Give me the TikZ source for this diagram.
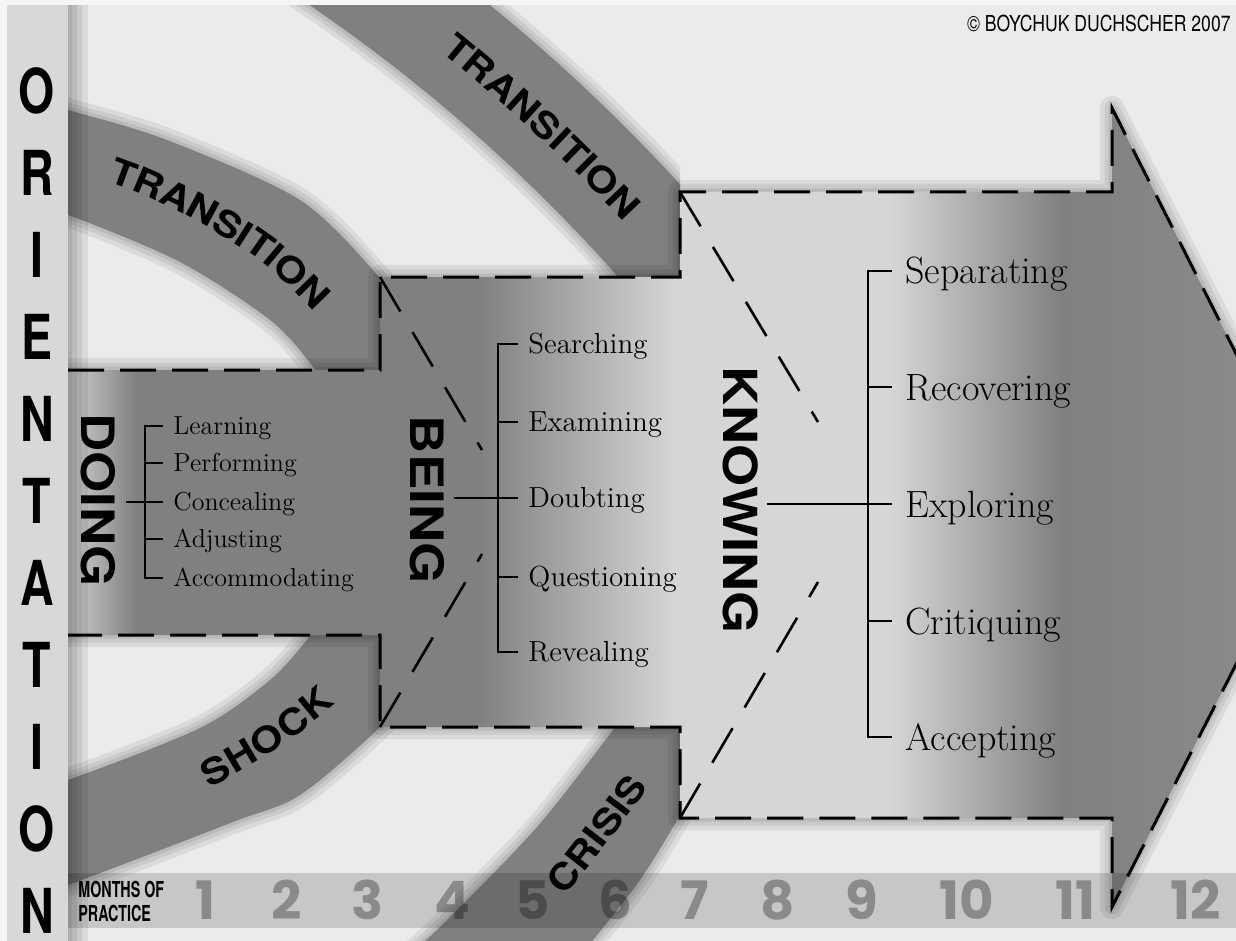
\documentclass[tikz,border=0pt]{standalone}
\usepackage{fontspec}
\newfontfamily\stagefont[FakeStretch=1.15]{TeX Gyre Heros}
\newfontfamily\orifont[FakeStretch=0.75]{TeX Gyre Heros}
\newfontfamily\copyfont[FakeStretch=0.8]{TeX Gyre Heros}
\newfontfamily\barfont[FakeStretch=0.65]{TeX Gyre Heros}
\newfontfamily\numfont{Poppins}
\usetikzlibrary{decorations.text,calc}
\definecolor{paper}{HTML}{EBEBEB}
\definecolor{barlite}{HTML}{D8D8D8}
\definecolor{bandgray}{HTML}{808080}
\definecolor{fadelite}{HTML}{D6D6D6}
\definecolor{doinglite}{HTML}{CFCFCF}
\definecolor{headgray}{HTML}{8E8E8E}
\tikzset{
    band/.style={
        fill=bandgray,
    },
    shadowed/.style={
        preaction={draw=black,draw opacity=.07,line width=12pt,line join=round},
        preaction={draw=black,draw opacity=.07,line width=7.5pt,line join=round},
        preaction={draw=black,draw opacity=.08,line width=3.5pt,line join=round},
    },
    edgeline/.style={
        draw=black,
        line width=1.5pt,
        dash pattern=on 18pt off 8pt,
    },
    chev/.style={
        draw=black,
        line width=1.3pt,
        dash pattern=on 20pt off 12pt,
    },
    brk/.style={
        draw=black,
        line width=1.3pt,
    },
    stage/.style={
        rotate=-90,
        inner sep=0pt,
        text height=16.5pt,
        text depth=0pt,
        font=\stagefont\bfseries\fontsize{23pt}{23pt}\selectfont,
    },
    orient/.style={
        inner sep=0pt,
        text height=22.5pt,
        text depth=0pt,
        font=\orifont\bfseries\fontsize{31pt}{31pt}\selectfont,
    },
    doitem/.style={
        anchor=west, inner sep=0pt, text height=8.9pt, text depth=0pt,
        font=\fontsize{13pt}{13pt}\selectfont,
    },
    beitem/.style={
        anchor=west, inner sep=0pt, text height=9.9pt, text depth=0pt,
        font=\fontsize{14.5pt}{14.5pt}\selectfont,
    },
    knitem/.style={
        anchor=west, inner sep=0pt, text height=13pt, text depth=0pt,
        font=\fontsize{19pt}{19pt}\selectfont,
    },
    month/.style={
        inner sep=0pt, text height=18.5pt, text depth=0pt,
        text=black, text opacity=.3,
        font=\numfont\bfseries\fontsize{26.5pt}{26.5pt}\selectfont,
    },
    bartext/.style={
        anchor=west, inner sep=0pt, text height=8pt, text depth=0pt,
        font=\barfont\bfseries\fontsize{11pt}{11pt}\selectfont,
    },
    bandtext/.style={
        decorate,
        decoration={text along path, text align=center, raise=-6.5pt,
            text={|\stagefont\bfseries\fontsize{18pt}{18pt}\selectfont|#1}},
    },
}

\begin{document}
\begin{tikzpicture}[x=0.5pt,y=-0.5pt]
    \useasboundingbox (0,0) rectangle (1236,941);
    \clip (0,0) rectangle (1236,941);
    \fill[paper] (0,0) rectangle (1236,941);

    % corners of the stage outline
    \coordinate (doTL) at (68,370);
    \coordinate (doTR) at (380,370);
    \coordinate (beTL) at (380,277);
    \coordinate (beTR) at (680,277);
    \coordinate (knTL) at (680,192);
    \coordinate (knTR) at (1112,192);
    \coordinate (arTop) at (1112,108);
    \coordinate (arTip) at (1315,510);
    \coordinate (arBot) at (1112,907);
    \coordinate (knBR) at (1112,818);
    \coordinate (knBL) at (680,818);
    \coordinate (beBR) at (680,727);
    \coordinate (beBL) at (380,727);
    \coordinate (doBR) at (380,635);
    \coordinate (doBL) at (68,635);
    \coordinate (beUp) at (482,450);
    \coordinate (beLo) at (482,554);
    \coordinate (knUp) at (818,422);
    \coordinate (knLo) at (818,582);

    % bands
    \fill[band, shadowed] plot[smooth] coordinates {(0,92) (68,110) (167,140) (300,200) (380,278) (430,345)}
        -- plot[smooth] coordinates {(345,420) (313,367) (270,320) (180,262) (68,215) (0,197)} -- cycle;
    \fill[band, shadowed] plot[smooth] coordinates {(0,905) (68,885) (233,822) (300,795) (380,727) (430,668)}
        -- plot[smooth] coordinates {(345,588) (310,636) (270,680) (200,728) (68,780) (0,800)} -- cycle;
    \fill[band, shadowed] plot[smooth] coordinates {(415,950) (447,920) (537,827) (613,730) (665,660)}
        -- plot[smooth] coordinates {(715,750) (680,815) (640,880) (593,940) (580,955)} -- cycle;
    \begin{scope}
        \clip (250,0) rectangle (680,600);
        \fill[band, shadowed, even odd rule] (-626,1379) circle[radius=1770] (-626,1379) circle[radius=1662];
    \end{scope}

    % stage outline
    \path[shadowed] (doTL) -- (doTR) -- (beTL) -- (beTR) -- (knTL) -- (knTR) -- (arTop) -- (arTip)
        -- (arBot) -- (knBR) -- (knBL) -- (beBR) -- (beBL) -- (doBR) -- (doBL) -- cycle;
    \begin{scope}
        \clip (doTL) -- (doTR) -- (beTL) -- (beTR) -- (knTL) -- (knTR) -- (arTop) -- (arTip)
            -- (arBot) -- (knBR) -- (knBL) -- (beBR) -- (beBL) -- (doBR) -- (doBL) -- cycle;
        \shade[left color=doinglite, right color=bandgray] (68,0) rectangle (136,941);
        \fill[bandgray] (135,0) rectangle (481,941);
        \shade[left color=bandgray, right color=fadelite] (480,0) rectangle (676,941);
        \fill[fadelite] (675,0) rectangle (891,941);
        \shade[left color=fadelite, right color=bandgray] (890,0) rectangle (1061,941);
        \shade[left color=bandgray, right color=headgray] (1060,0) rectangle (1320,941);
    \end{scope}
    \draw[edgeline] (doTL) -- (doTR) -- (beTL) -- (beTR) -- (knTL) -- (knTR) -- (arTop) -- (arTip)
        -- (arBot) -- (knBR) -- (knBL) -- (beBR) -- (beBL) -- (doBR) -- (doBL);
    \draw[chev] (beTL) -- (beUp);
    \draw[chev] (beBL) -- (beLo);
    \draw[chev] (knTL) -- (knUp);
    \draw[chev] (knBL) -- (knLo);

    % months of practice
    \fill[black, fill opacity=.15] (68,873) rectangle (1236,928);
    \foreach \m/\x in {1/205,2/287,3/368,4/452,5/533,6/615,7/695,8/778,9/862,10/967,11/1075,12/1196}
        \node[month] (mon\m) at (\x,901) {\m};
    \node[bartext] (months) at (78,889) {MONTHS OF};
    \node[bartext] (practice) at (78,913) {PRACTICE};

    % band labels
    \path[bandtext=TRANSITION] plot[smooth] coordinates {(40,152) (120,172) (200,208) (270,252) (330,310) (370,360)};
    \path[bandtext=TRANSITION] plot[domain=57:37, samples=60] ({-626+1716*cos(\x)},{1379-1716*sin(\x)});
    \path[bandtext=SHOCK] (135,807) .. controls (220,775) and (320,715) .. (380,640);
    \path[bandtext=CRISIS] (520,930) .. controls (575,865) and (625,800) .. (670,735);

    % orientation bar
    \fill[white!96!black] (0,0) rectangle (1236,5);
    \fill[white!96!black] (0,0) rectangle (7,941);
    \foreach \w in {20,14,9,4}
        \fill[black, fill opacity=.07] (68,5) rectangle ++(\w,936);
    \fill[barlite] (7,5) rectangle (68,941);
    \foreach \l [count=\i] in {O,R,I,E,N,T,A,T,I,O,N}
        \node[orient] (ori\i) at (37,{9+82*\i}) {\l};

    % doing
    \node[stage] (doing) at (98,500) {DOING};
    \node[doitem] (learn) at (173,426) {Learning};
    \node[doitem] (perf) at (173,463) {Performing};
    \node[doitem] (conc) at (173,502) {Concealing};
    \node[doitem] (adj) at (173,539) {Adjusting};
    \node[doitem] (accom) at (173,578) {Accommodating};
    \draw[brk] ([xshift=-5pt]learn.west) -- ++(-18,0) |- ([xshift=-5pt]accom.west);
    \foreach \n in {perf,conc,adj}
        \draw[brk] ([xshift=-5pt]\n.west) -- ++(-18,0);
    \draw[brk] (doing.north |- conc.west) ++(11,0) -- ([xshift=-5pt]conc.west);

    % being
    \node[stage] (being) at (427,500) {BEING};
    \node[beitem] (search) at (528,344) {Searching};
    \node[beitem] (exam) at (528,422) {Examining};
    \node[beitem] (doubt) at (528,498) {Doubting};
    \node[beitem] (quest) at (528,577) {Questioning};
    \node[beitem] (reveal) at (528,652) {Revealing};
    \draw[brk] ([xshift=-5pt]search.west) -- ++(-20,0) |- ([xshift=-5pt]reveal.west);
    \foreach \n in {exam,doubt,quest}
        \draw[brk] ([xshift=-5pt]\n.west) -- ++(-20,0);
    \draw[brk] (being.north |- doubt.west) ++(10,0) -- ([xshift=-5pt]doubt.west);

    % knowing
    \node[stage, font=\stagefont\bfseries\fontsize{23.5pt}{23.5pt}\selectfont] (knowing) at (740,500) {KNOWING};
    \node[knitem] (separ) at (905,271) {Separating};
    \node[knitem] (recov) at (905,387) {Recovering};
    \node[knitem] (explo) at (905,504) {Exploring};
    \node[knitem] (criti) at (905,621) {Critiquing};
    \node[knitem] (accep) at (905,737) {Accepting};
    \draw[brk] ([xshift=-6.5pt]separ.west) -- ++(-24,0) |- ([xshift=-6.5pt]accep.west);
    \foreach \n in {recov,explo,criti}
        \draw[brk] ([xshift=-6.5pt]\n.west) -- ++(-24,0);
    \draw[brk] (knowing.north |- explo.west) ++(10,0) -- ([xshift=-6.5pt]explo.west);

    \node[anchor=east, inner sep=0pt, text height=8pt, text depth=0pt,
        font=\copyfont\fontsize{11pt}{11pt}\selectfont] (copy) at (1231,24) {© BOYCHUK DUCHSCHER 2007};
\end{tikzpicture}
\end{document}
